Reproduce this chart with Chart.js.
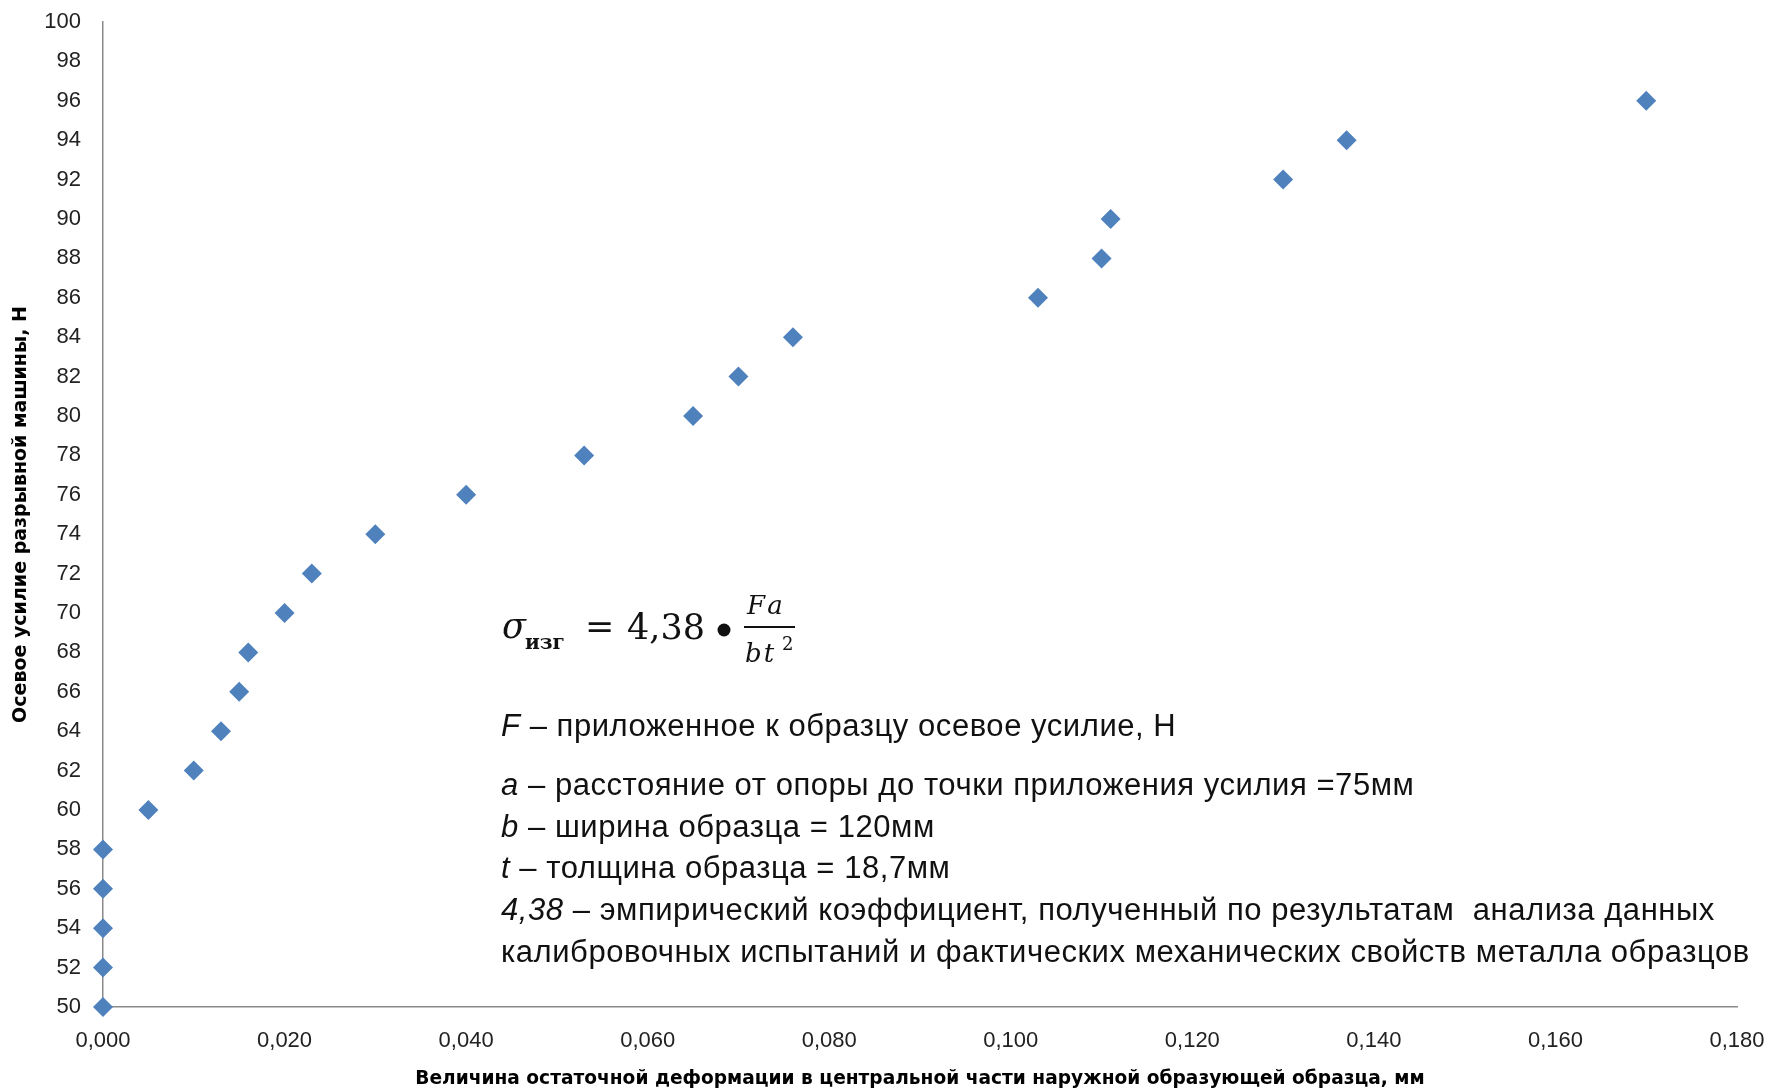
<!DOCTYPE html>
<html>
<head>
<meta charset="utf-8">
<script src="https://cdn.jsdelivr.net/npm/chart.js@4.4.1/dist/chart.umd.min.js"></script>
<style>
  html, body { margin: 0; padding: 0; background: #fff; }
  #wrap { width: 1769px; height: 1090px; }
</style>
</head>
<body>
<div id="wrap"><canvas id="chart" width="1769" height="1090"></canvas></div>
<script>
// Residual deformation (mm) vs. axial force of the testing machine (N)
const deformation = [0, 0, 0, 0, 0, 0.005, 0.010, 0.013, 0.015, 0.016, 0.020, 0.023,
                     0.030, 0.040, 0.053, 0.065, 0.070, 0.076, 0.103, 0.110, 0.111,
                     0.130, 0.137, 0.170];
const force = [50, 52, 54, 56, 58, 60, 62, 64, 66, 68, 70, 72,
               74, 76, 78, 80, 82, 84, 86, 88, 90, 92, 94, 96];

const xTitle = 'Величина остаточной деформации в центральной части наружной образующей образца, мм';
const yTitle = 'Осевое усилие разрывной машины, Н';

// Legend for the bending-stress formula: [italic symbol, description]
const noteLines = [
  ['F', ' – приложенное к образцу осевое усилие, Н'],
  ['a', ' – расстояние от опоры до точки приложения усилия =75мм'],
  ['b', ' – ширина образца = 120мм'],
  ['t', ' – толщина образца = 18,7мм'],
  ['4,38', ' – эмпирический коэффициент, полученный по результатам  анализа данных'],
  ['', 'калибровочных испытаний и фактических механических свойств металла образцов']
];

const points = deformation.map((x, i) => ({ x: x, y: force[i] }));

const formulaPlugin = {
  id: 'formulaNotes',
  afterDraw(chart) {
    const ctx = chart.ctx;
    ctx.save();
    ctx.fillStyle = '#111';
    ctx.textBaseline = 'alphabetic';
    ctx.textAlign = 'left';

    // sigma with subscript
    ctx.font = 'italic 35px "DejaVu Serif"';
    ctx.fillText('σ', 502, 638);
    ctx.font = 'bold 20px "DejaVu Serif"';
    ctx.fillText('изг', 525, 649);
    // = 4,38
    ctx.font = '35px "DejaVu Serif"';
    ctx.fillText('=', 585, 638);
    ctx.fillText('4,38', 627, 639);
    // multiplication bullet
    ctx.beginPath();
    ctx.arc(724, 630, 6.5, 0, Math.PI * 2);
    ctx.fill();
    // fraction Fa / bt^2
    ctx.fillRect(744, 626, 51, 2);
    ctx.font = 'italic 26px "DejaVu Serif"';
    ctx.letterSpacing = '4px';
    ctx.fillText('Fa', 747, 614);
    ctx.letterSpacing = '2px';
    ctx.fillText('bt', 745, 662);
    ctx.letterSpacing = '0px';
    ctx.font = '18px "DejaVu Serif"';
    ctx.fillText('2', 782, 650);

    // description lines
    const baselines = [736, 795, 837, 878, 920, 962];
    const x0 = 501;
    ctx.letterSpacing = '0.55px';
    noteLines.forEach((ln, i) => {
      let x = x0;
      if (ln[0]) {
        ctx.font = 'italic 31px "Liberation Sans"';
        ctx.fillText(ln[0], x, baselines[i]);
        x += ctx.measureText(ln[0]).width;
      }
      ctx.font = '31px "Liberation Sans"';
      ctx.fillText(ln[1], x, baselines[i]);
    });
    ctx.restore();
  }
};

const axisColor = '#8a8a8a';
const tickFont = { family: 'Liberation Sans', size: 22 };

// the plot area is fixed by the layout padding alone
function clearEdgePadding(s) {
  s.paddingTop = 0;
  s.paddingBottom = 0;
  s.paddingLeft = 0;
  s.paddingRight = 0;
}

new Chart(document.getElementById('chart'), {
  type: 'scatter',
  data: {
    datasets: [{
      data: points,
      pointStyle: 'rectRot',
      pointRadius: 10,
      pointHoverRadius: 10,
      pointBackgroundColor: '#4F81BD',
      pointBorderColor: '#4F81BD',
      pointBorderWidth: 0,
      clip: false
    }]
  },
  options: {
    responsive: false,
    animation: false,
    devicePixelRatio: 1,
    layout: { padding: { left: 0, top: 22, right: 32, bottom: 0 } },
    plugins: { legend: { display: false }, tooltip: { enabled: false } },
    scales: {
      x: {
        type: 'linear',
        min: 0,
        max: 0.18,
        grid: { display: false, drawTicks: false },
        border: { display: true, color: axisColor, width: 1.5 },
        ticks: {
          stepSize: 0.02,
          padding: 21,
          color: '#222',
          font: tickFont,
          maxRotation: 0,
          callback: v => v.toFixed(3).replace('.', ',')
        },
        title: {
          display: true,
          text: xTitle,
          color: '#000',
          font: { family: 'DejaVu Sans', size: 18.6, weight: 'bold' },
          padding: { top: 0, bottom: 0 }
        },
        afterFit: s => { s.height = 83; clearEdgePadding(s); }
      },
      y: {
        type: 'linear',
        min: 50,
        max: 100,
        grid: { display: false, drawTicks: false },
        border: { display: true, color: axisColor, width: 1.5 },
        ticks: {
          stepSize: 2,
          padding: 22,
          color: '#222',
          font: tickFont
        },
        title: {
          display: true,
          text: yTitle,
          color: '#000',
          font: { family: 'DejaVu Sans', size: 19, weight: 'bold' },
          padding: { top: 10, bottom: 0 }
        },
        afterFit: s => { s.width = 103; clearEdgePadding(s); }
      }
    }
  },
  plugins: [formulaPlugin]
});
</script>
</body>
</html>
